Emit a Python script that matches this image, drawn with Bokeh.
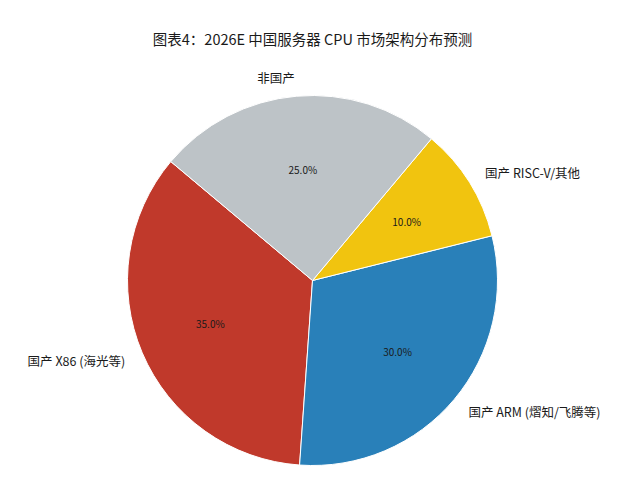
import math
from bokeh.plotting import figure
from bokeh.models import Range1d, Label, ColumnDataSource
from bokeh.core.properties import value
from bokeh.embed import file_html
from bokeh.resources import INLINE

# ---- data ----
labels = ["国产 X86 (海光等)", "国产 ARM (熠知/飞腾等)", "国产 RISC-V/其他", "非国产"]
shares = [35, 30, 10, 25]
colors = ["#C0392B", "#2980B9", "#F1C40F", "#BDC3C7"]
title_text = "图表4：2026E 中国服务器 CPU 市场架构分布预测"
start_deg = 140

W, H = 624, 468
R_PX = 185.0
CX, CY_TOP = 312.0, 280.0
FONT = "Noto Sans CJK SC"

total = float(sum(shares))
starts, ends, mids = [], [], []
a = math.radians(start_deg)
for s in shares:
    span = 2 * math.pi * s / total
    starts.append(a)
    ends.append(a + span)
    mids.append(a + span / 2)
    a += span

pct_text = [f"{100 * s / total:.1f}%" for s in shares]
pct_x = [0.6 * math.cos(m) for m in mids]
pct_y = [0.6 * math.sin(m) for m in mids]
lab_x = [1.1 * math.cos(m) for m in mids]
lab_y = [1.1 * math.sin(m) for m in mids]
lab_align = ["right" if x < 0 else "left" for x in lab_x]

src = ColumnDataSource(dict(start=starts, end=ends, color=colors,
                            px=pct_x, py=pct_y, pt=pct_text,
                            lx=lab_x, ly=lab_y, lt=labels, la=lab_align))

p = figure(width=W, height=H, output_backend="svg", toolbar_location=None,
           x_range=Range1d(-CX / R_PX, (W - CX) / R_PX),
           y_range=Range1d(-(H - CY_TOP) / R_PX, CY_TOP / R_PX),
           min_border=0)
p.axis.visible = False
p.grid.visible = False
p.outline_line_color = None
p.background_fill_color = "white"
p.border_fill_color = "white"

p.wedge(x=0, y=0, radius=1, start_angle="start", end_angle="end",
        direction="anticlock", fill_color="color", line_color="white",
        line_width=1, source=src)

p.text(x="px", y="py", text="pt", source=src, text_align="center",
       text_baseline="middle", text_font=value(FONT), text_font_size="10px",
       text_color="#1a1a1a")
p.text(x="lx", y="ly", text="lt", source=src, text_align="la",
       text_baseline="middle", text_font=value(FONT), text_font_size="12.5px",
       text_color="#1a1a1a")

title = Label(x=CX, y=H - 38, x_units="screen", y_units="screen",
              text=title_text, text_align="center", text_baseline="middle",
              text_font=FONT, text_font_size="14.5px", text_color="#1a1a1a")
p.add_layout(title)

open("out.html", "w").write(file_html(p, INLINE))
